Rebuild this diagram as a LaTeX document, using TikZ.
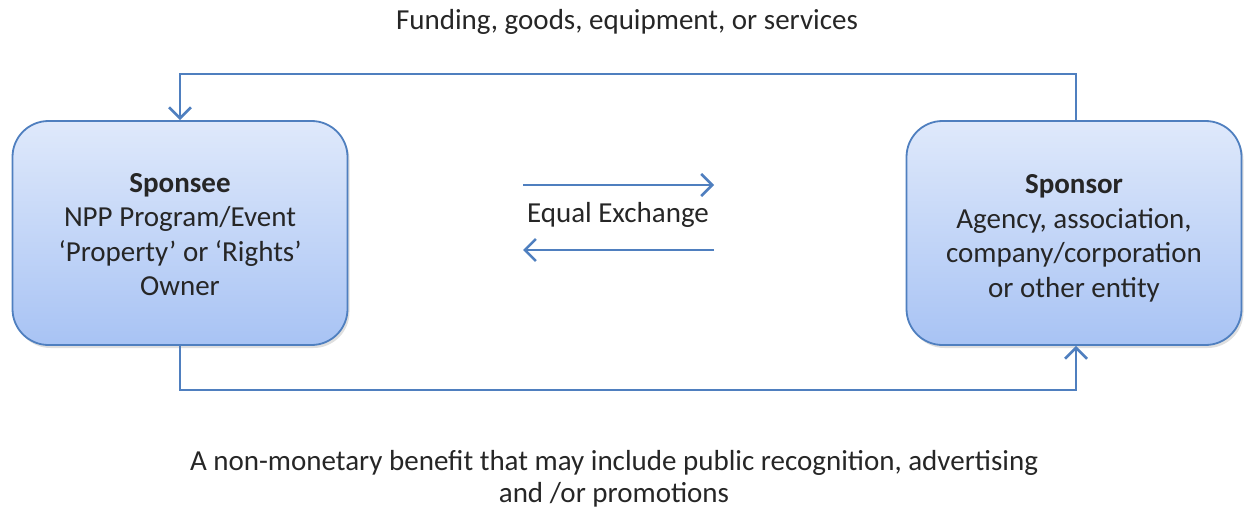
\documentclass[tikz,border=0pt]{standalone}
\usepackage{fontspec}
\setmainfont{Carlito}
\usetikzlibrary{arrows.meta,shadows}
\definecolor{lineblue}{HTML}{4F7FBF}
\definecolor{boxtop}{HTML}{DFE9FB}
\definecolor{boxbot}{HTML}{A8C3F4}
\tikzset{
  box/.style={draw=lineblue, line width=1.8pt, rounded corners=36pt, minimum width=335pt, minimum height=224pt,
    top color=boxtop, bottom color=boxbot, align=center, font=\fontsize{29}{34.5}\selectfont, text=black!85,
    drop shadow={opacity=0.25, shadow xshift=2pt, shadow yshift=-3pt}},
  conn/.style={draw=lineblue, line width=2.6pt, -{Straight Barb[length=11pt,width=22pt,line width=2.6pt]}},
  lbl/.style={font=\fontsize{29}{32}\selectfont, text=black!85, align=center}
}
\begin{document}
\begin{tikzpicture}[x=1pt,y=-1pt]
\useasboundingbox (0,0) rectangle (1244,508);
\node[box] (spe) at (180,233) {\rule{0pt}{22pt}\textbf{Sponsee}\\NPP Program/Event\\‘Property’ or ‘Rights’\\Owner};
\node[box] (spo) at (1074,233) {\rule{0pt}{30pt}\textbf{Sponsor}\\Agency, association,\\company/corporation\\or other entity};
\coordinate (t1) at (1076,74);
\coordinate (t2) at (180,74);
\coordinate (b1) at (180,390);
\coordinate (b2) at (1076,390);
\draw[conn] (spo.north -| t1) -- (t1) -- (t2) -- (spe.north);
\draw[conn] (spe.south) -- (b1) -- (b2) -- (spo.south -| b2);
\coordinate (e1) at (523,185);
\coordinate (e2) at (714,185);
\coordinate (e3) at (714,250);
\coordinate (e4) at (523,250);
\draw[conn] (e1) -- (e2);
\draw[conn] (e3) -- (e4);
\node[lbl] (eq) at (618,215) {Equal Exchange};
\node[lbl] (top) at (627,22) {Funding, goods, equipment, or services};
\node[lbl] (bot) at (614,479) {A non-monetary benefit that may include public recognition, advertising\\and /or promotions};
\end{tikzpicture}
\end{document}
